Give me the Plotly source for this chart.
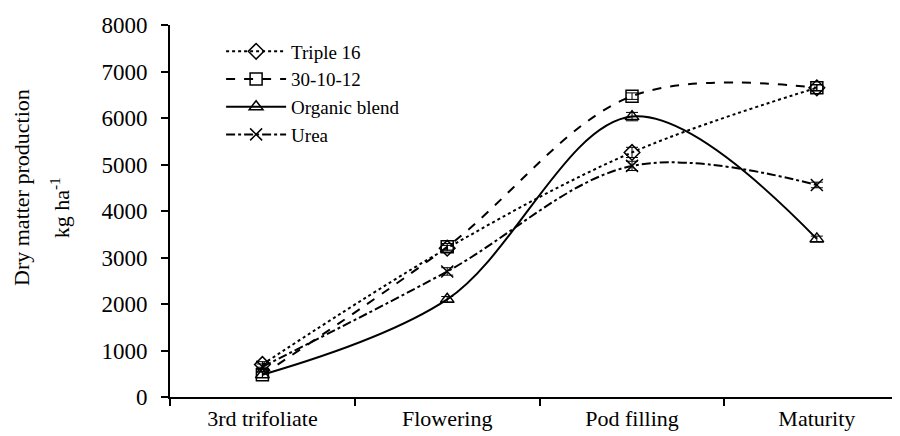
import plotly.graph_objects as go

stages = ["3rd trifoliate", "Flowering", "Pod filling", "Maturity"]
triple16 = [700, 3200, 5260, 6650]
npk301012 = [480, 3230, 6470, 6650]
organic = [480, 2100, 6030, 3400]
urea = [650, 2700, 4970, 4560]
err_triple16 = [60, 60, 110, 60]
err_npk = [60, 70, 70, 70]
err_organic = [60, 60, 90, 60]
err_urea = [60, 80, 100, 60]

series = [
    ("Triple 16", triple16, err_triple16, "dot", "diamond-open"),
    ("30-10-12", npk301012, err_npk, "dash", "square-open"),
    ("Organic blend", organic, err_organic, "solid", "triangle-up-open"),
    ("Urea", urea, err_urea, "dashdot", "x-thin-open"),
]

fig = go.Figure()
for name, vals, errs, dash, sym in series:
    fig.add_trace(go.Scatter(
        x=stages, y=vals, name=name, mode="lines+markers",
        line=dict(color="black", width=2, dash=dash, shape="spline", smoothing=1.0),
        marker=dict(symbol=sym, size=12, color="black", line=dict(color="black", width=1.5)),
        error_y=dict(type="data", array=errs, color="black", thickness=1, width=6),
    ))

font = "'Times New Roman', 'Liberation Serif', serif"
fig.update_layout(
    width=892, height=428,
    margin=dict(l=162, r=0, t=17, b=39, autoexpand=False),
    plot_bgcolor="white", paper_bgcolor="white",
    font=dict(family=font, size=22, color="black"),
    showlegend=True,
    legend=dict(x=0.07, y=0.98, xanchor="left", yanchor="top",
                font=dict(family=font, size=19), bgcolor="rgba(0,0,0,0)",
                itemwidth=60, tracegroupgap=0),
    xaxis=dict(type="category", range=[-0.5, 3.45], showline=True, linecolor="black",
               linewidth=2, ticks="outside", tickson="boundaries", ticklen=7,
               tickwidth=2, tickcolor="black", showgrid=False, zeroline=False,
               ticklabelstandoff=1, automargin=False,
               tickfont=dict(family=font, size=22)),
    yaxis=dict(range=[0, 8000], dtick=1000, showline=True, linecolor="black",
               linewidth=2, ticks="outside", ticklen=7, tickwidth=2, tickcolor="black",
               showgrid=False, zeroline=False, ticklabelstandoff=9, automargin=False,
               tickfont=dict(family=font, size=23)),
    annotations=[
        dict(text="Dry matter production", xref="paper", yref="paper",
             x=-0.2027, y=0.562, xanchor="center", yanchor="middle", textangle=-90,
             showarrow=False, font=dict(family=font, size=22)),
        dict(text="kg ha<sup>-1</sup>", xref="paper", yref="paper",
             x=-0.1507, y=0.51, xanchor="center", yanchor="middle", textangle=-90,
             showarrow=False, font=dict(family=font, size=22)),
    ],
)
fig.write_html("out.html")
